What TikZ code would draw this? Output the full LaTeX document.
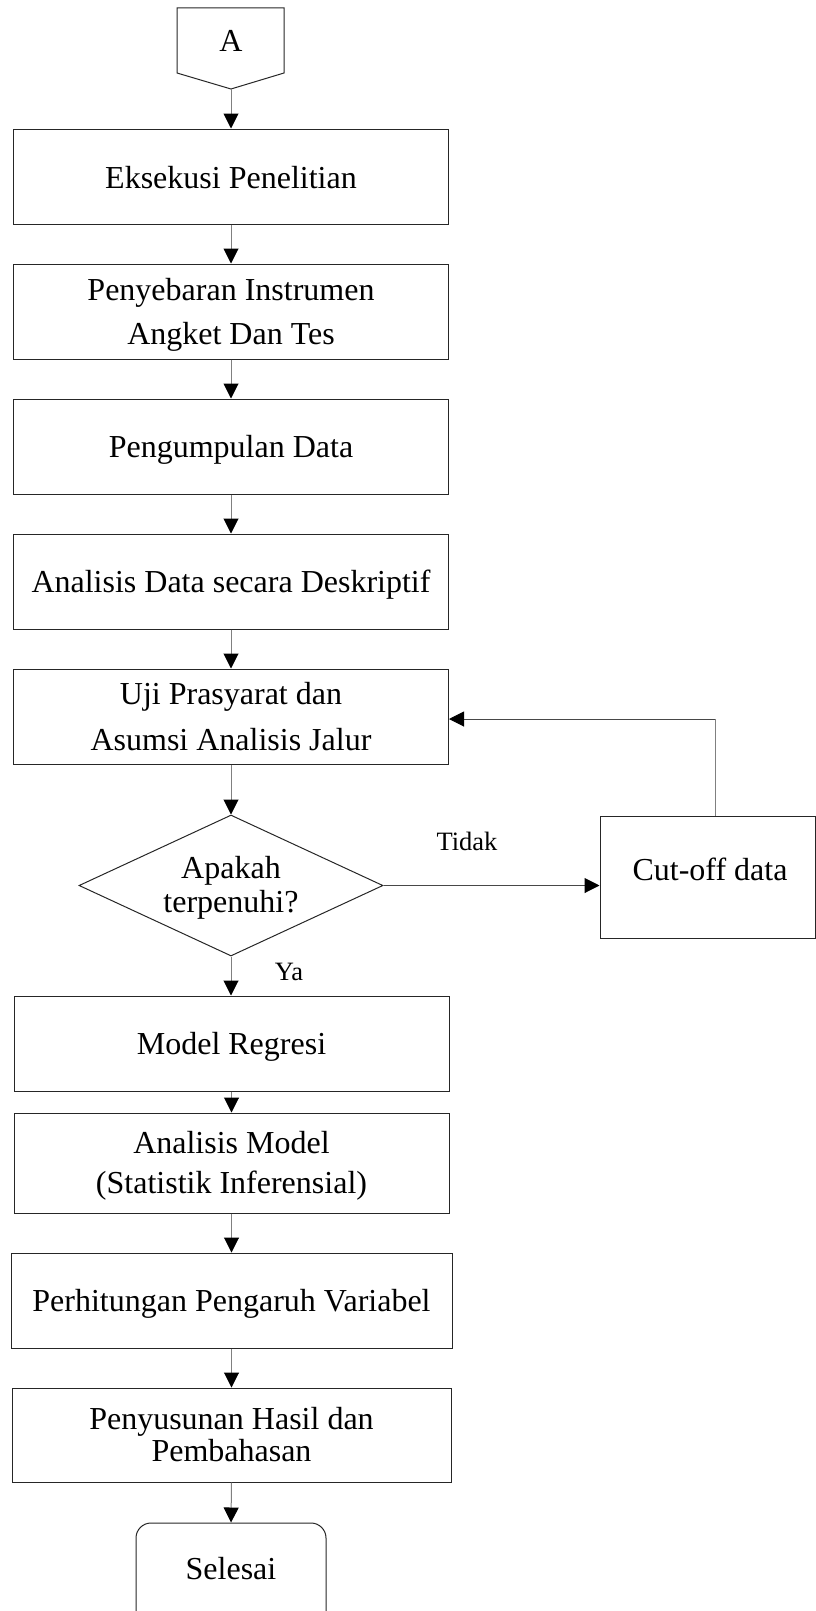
\documentclass[tikz,border=0pt]{standalone}
\usepackage{fontspec}
\setmainfont{Liberation Serif}
\usetikzlibrary{arrows.meta,shapes.geometric}
\begin{document}
\begin{tikzpicture}[x=1pt,y=-1pt,
  boxst/.style={draw=black!85, line width=1pt, rectangle, inner sep=0pt},
  diast/.style={draw=black!85, line width=1pt, diamond, inner sep=0pt, minimum width=304pt, minimum height=141pt},
  txt/.style={font=\fontsize{32}{38}\selectfont, anchor=base, inner sep=0pt},
  small/.style={font=\fontsize{26.5}{30}\selectfont, anchor=base, inner sep=0pt},
  conn/.style={draw=black!50, line width=1pt, -{Triangle[length=15pt,width=15pt,color=black]}},
  hconn/.style={draw=black!72, line width=1pt, -{Triangle[length=15pt,width=15pt,color=black]}}]
\useasboundingbox (0,0) rectangle (816,1611);
\clip (0,0) rectangle (816,1611);

% off-page connector A
\draw[draw=black!85, line width=1pt] (177,8) -- (284,8) -- (284,73) -- (231,89) -- (177,73) -- cycle;
\coordinate (Abot) at (231,89);
\node[txt] (tA) at (231,52) {A};

% boxes
\node[boxst, minimum width=435pt, minimum height=95pt] (b1) at (231,176.5) {};
\node[txt] (t1) at (231,188) {Eksekusi Penelitian};

\node[boxst, minimum width=435pt, minimum height=95pt] (b2) at (231,311.5) {};
\node[txt] (t2a) at (231,300) {Penyebaran Instrumen};
\node[txt] (t2b) at (231,344) {Angket Dan Tes};

\node[boxst, minimum width=435pt, minimum height=95pt] (b3) at (231,446.5) {};
\node[txt] (t3) at (231,457) {Pengumpulan Data};

\node[boxst, minimum width=435pt, minimum height=95pt] (b4) at (231,581.5) {};
\node[txt] (t4) at (231,592) {Analisis Data secara Deskriptif};

\node[boxst, minimum width=435pt, minimum height=95pt] (b5) at (231,716.5) {};
\node[txt] (t5a) at (231,704) {Uji Prasyarat dan};
\node[txt] (t5b) at (231,750) {Asumsi Analisis Jalur};

\node[diast] (d) at (231,885.5) {};
\node[txt] (tda) at (231,878) {Apakah};
\node[txt] (tdb) at (231,912) {terpenuhi?};

\node[boxst, minimum width=215.5pt, minimum height=122pt] (cut) at (707.75,877) {};
\node[txt] (tc) at (710,880) {Cut-off data};

\node[boxst, minimum width=435pt, minimum height=95pt] (b6) at (231.5,1043.5) {};
\node[txt] (t6) at (231.5,1054) {Model Regresi};

\node[boxst, minimum width=435pt, minimum height=100pt] (b7) at (231.5,1163) {};
\node[txt] (t7a) at (231.5,1153) {Analisis Model};
\node[txt] (t7b) at (231.5,1193) {(Statistik Inferensial)};

\node[boxst, minimum width=441pt, minimum height=95pt] (b8) at (231.5,1300.5) {};
\node[txt] (t8) at (231.5,1311) {Perhitungan Pengaruh Variabel};

\node[boxst, minimum width=439pt, minimum height=94pt] (b9) at (231.5,1435) {};
\node[txt] (t9a) at (231.5,1429) {Penyusunan Hasil dan};
\node[txt] (t9b) at (231.5,1461) {Pembahasan};

\node[boxst, rounded corners=15pt, minimum width=190pt, minimum height=107pt] (sel) at (231,1576.5) {};
\node[txt] (ts) at (231,1579) {Selesai};

% labels
\node[small] (ltidak) at (467,850) {Tidak};
\node[small] (lya) at (289,980) {Ya};

% connectors
\draw[conn] (Abot) -- (b1.north -| Abot);
\draw[conn] (b1.south) -- (b2.north);
\draw[conn] (b2.south) -- (b3.north);
\draw[conn] (b3.south) -- (b4.north);
\draw[conn] (b4.south) -- (b5.north);
\draw[conn] (b5.south) -- (d.north);
\draw[conn] (d.south) -- (b6.north -| d.south);
\draw[conn] (b6.south) -- (b7.north);
\draw[conn] (b7.south) -- (b8.north);
\draw[conn] (b8.south) -- (b9.north);
\draw[conn] (b9.south) -- (sel.north);
\draw[hconn] (d.east) -- (cut.west |- d.east);
\coordinate (fb) at (715,719);
\draw[draw=black!50, line width=1pt] (cut.north -| fb) -- (fb);
\draw[hconn] (fb) -- (b5.east |- fb);
\end{tikzpicture}
\end{document}
